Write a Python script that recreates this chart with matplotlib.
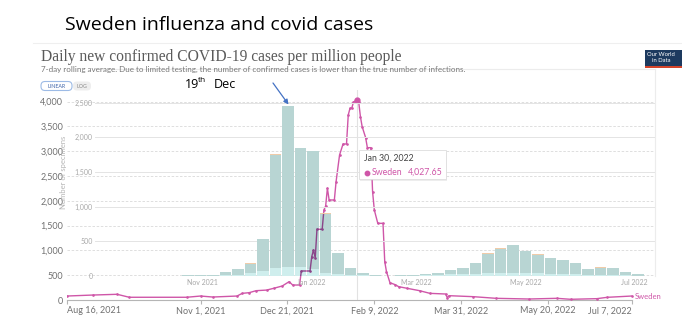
import numpy as np
import pandas as pd
import matplotlib
matplotlib.use("Agg")
from matplotlib import pyplot as plt
import matplotlib.dates as mdates
from matplotlib.patches import Rectangle, FancyBboxPatch

W, H = 682, 332

# Sweden, daily new confirmed COVID-19 cases per million (7-day average)
covid_dates = ["2021-08-16", "2021-08-31", "2021-09-14", "2021-09-21", "2021-10-24",
               "2021-11-01", "2021-11-08", "2021-11-22", "2021-11-25", "2021-11-29",
               "2021-12-03", "2021-12-09", "2021-12-13", "2021-12-18", "2021-12-22",
               "2021-12-24", "2021-12-28", "2021-12-29", "2022-01-03", "2022-01-04",
               "2022-01-05", "2022-01-06", "2022-01-07", "2022-01-10", "2022-01-11",
               "2022-01-12", "2022-01-13", "2022-01-14", "2022-01-17", "2022-01-18",
               "2022-01-20", "2022-01-22", "2022-01-24", "2022-01-25", "2022-01-26",
               "2022-01-27", "2022-01-28", "2022-01-29", "2022-01-30", "2022-01-31",
               "2022-02-01", "2022-02-02", "2022-02-04", "2022-02-05", "2022-02-07",
               "2022-02-08", "2022-02-09", "2022-02-11", "2022-02-14", "2022-02-15",
               "2022-02-16", "2022-02-18", "2022-02-21", "2022-02-23", "2022-02-28",
               "2022-03-07", "2022-03-13", "2022-03-22", "2022-03-23", "2022-03-24",
               "2022-04-07", "2022-04-20", "2022-05-09", "2022-05-25", "2022-06-02",
               "2022-06-17", "2022-06-23", "2022-07-07"]
covid_cases = [80, 100, 115, 55, 55,
               80, 60, 80, 134, 148,
               188, 200, 235, 282, 370,
               302, 302, 585, 585, 874,
               1008, 847, 1426, 1426, 1815,
               1896, 2253, 2017, 2017, 2387,
               2925, 3146, 3146, 3731, 3866,
               3866, 3990, 4010, 4027.65, 4000,
               3698, 3496, 3274, 3072, 3072,
               2185, 1815, 1546, 1546, 773,
               571, 349, 309, 269, 235,
               188, 134, 121, 47, 87,
               67, 34, 20, 34, 14,
               27, 54, 80]

covid_ticks = ["2021-08-16", "2021-11-01", "2021-12-21", "2022-02-09",
               "2022-03-31", "2022-05-20", "2022-07-07"]
covid_tick_labels = ["Aug 16, 2021", "Nov 1, 2021", "Dec 21, 2021", "Feb 9, 2022",
                     "Mar 31, 2022", "May 20, 2022", "Jul 7, 2022"]

# weekly influenza specimens, weeks centred on Sundays
flu_weeks = pd.date_range("2021-09-05", "2022-07-03", freq="7D")
flu_total = [3, 3, 4, 4, 5, 6, 7, 9, 12,
             15, 58, 96, 183, 534, 1756, 2457, 1851, 1808, 905,
             328, 120, 48, 19, 5, 10, 14, 29, 39, 87,
             111, 192, 328, 400, 447, 361, 313, 260, 231, 192,
             105, 126, 115, 62, 25]
flu_b = [1, 1, 2, 2, 2, 3, 3, 4, 5,
         6, 12, 20, 43, 76, 120, 134, 134, 105, 45,
         22, 12, 8, 5, 2, 4, 6, 10, 14, 22,
         28, 36, 42, 48, 50, 46, 40, 35, 30, 25,
         18, 16, 14, 8, 4]
flu_other = [0, 0, 0, 0, 0, 0, 0, 0, 0,
             0, 0, 1, 5, 3, 4, 6, 5, 6, 4,
             3, 2, 0, 0, 0, 0, 0, 1, 1, 2,
             2, 4, 5, 6, 5, 5, 4, 3, 4, 3,
             2, 4, 3, 2, 0]

flu_months = ["2021-11-01", "2022-01-01", "2022-03-01", "2022-05-01", "2022-07-01"]
flu_month_labels = ["Nov 2021", "Jan 2022", "Mar 2022", "May 2022", "Jul 2022"]

PINK = "#cf56a8"
GREY = "#707070"
LIGHT = "#a8a8a8"


def px_axes(fig, x0, y0, x1, y1):
    # axes placed by pixel box (top-left origin)
    return fig.add_axes([x0 / W, 1 - y1 / H, (x1 - x0) / W, (y1 - y0) / H])


fig = plt.figure(figsize=(W / 100, H / 100), dpi=100)
fig.patch.set_facecolor("white")

# ---- covid line chart ----
cd = pd.to_datetime(covid_dates)
start = pd.Timestamp("2021-08-16")
cov = px_axes(fig, 66.7, 90, 655, 300)
cov.set_xlim(start, start + pd.Timedelta(days=338.5))
cov.set_ylim(0, 4235)
cov.set_facecolor("none")
for s in ["top", "right", "left"]:
    cov.spines[s].set_visible(False)
cov.spines["bottom"].set_color("#b5b5b5")
cov.spines["bottom"].set_linewidth(0.8)
cov.spines["bottom"].set_bounds(mdates.date2num(start),
                                mdates.date2num(pd.Timestamp("2022-07-07")))
yt = np.arange(0, 4001, 500)
cov.set_yticks(yt)
cov.set_yticklabels([f"{v:,}" for v in yt], fontsize=6.5, color=GREY, family="Lato")
cov.tick_params(axis="y", length=0, pad=2.5)
cov.set_xticks(pd.to_datetime(covid_ticks))
xl = cov.set_xticklabels(covid_tick_labels, fontsize=6.5, color=GREY, family="Lato")
xl[0].set_ha("left")
xl[-1].set_ha("right")
cov.tick_params(axis="x", length=3, color="#b5b5b5", pad=1.5)
for v in yt[1:]:
    cov.axhline(v, color="#d9d9d9", lw=0.6, ls=(0, (3, 2)), zorder=0)
cov.axvline(pd.Timestamp("2022-01-30"), color="#e2e2e2", lw=0.8, zorder=0)
cov.plot(cd, covid_cases, color=PINK, lw=1.0, marker="o", ms=0.9, zorder=3)
cov.plot([pd.Timestamp("2022-01-30")], [4027.65], "o", color=PINK, ms=3.5, zorder=4)
cov.text(pd.Timestamp("2022-07-09"), 80, "Sweden", color=PINK, fontsize=5.5,
         family="Lato", va="center", ha="left")

# ---- influenza bar chart, laid over the line chart ----
flu = px_axes(fig, 95, 69, 655, 276)
flu.set_facecolor("none")
mid = pd.Timestamp("2021-12-19")
total = np.array(flu_total, float)
b = np.array(flu_b, float)
oth = np.array(flu_other, float)
a = total - b - oth
bw = 6.3
bars_b = flu.bar(flu_weeks, b, width=bw, color="#cfeeed", zorder=2)
bars_a = flu.bar(flu_weeks, a, bottom=b, width=bw, color="#b8d5d3", zorder=2)
flu.bar(flu_weeks, oth, bottom=b + a, width=bw, color="#f1cba8", zorder=2)
for v in range(500, 2501, 500):
    flu.axhline(v, color="#e4e4e4", lw=0.7, zorder=1)
for s in ["left", "bottom"]:
    flu.spines[s].set_visible(False)
for s in ["top", "right"]:
    flu.spines[s].set_color("#ececec")
    flu.spines[s].set_linewidth(0.8)
yt2 = np.arange(0, 2501, 500)
flu.set_yticks(yt2)
flu.set_yticklabels([f"{v:,}" for v in yt2], fontsize=5, color=LIGHT, family="Lato")
flu.tick_params(axis="y", length=0, pad=1.5)
flu.set_xticks(pd.to_datetime(flu_months))
flu.set_xticklabels(flu_month_labels, fontsize=5, color=LIGHT, family="Lato")
flu.tick_params(axis="x", length=0, pad=2)
flu.set_ylabel("Number of specimens", fontsize=5.5, color="#b5b5b5", family="Lato")
flu.yaxis.set_label_coords(-0.05, 0.5)

# the line shows through the bars darker where they overlap
for bar in list(bars_a) + list(bars_b):
    ln, = flu.plot(cd, covid_cases, color="#8a4489", lw=1.0, marker="o", ms=0.9,
                   transform=cov.transData, zorder=3)
    ln.set_clip_path(bar)
flu.set_xlim(mid - pd.Timedelta(days=108), mid + pd.Timedelta(days=205.5))
flu.set_ylim(0, 2987)

# ---- page furniture in pixel coordinates ----
ov = fig.add_axes([0, 0, 1, 1])
ov.set_xlim(0, W)
ov.set_ylim(H, 0)
ov.axis("off")
ov.set_zorder(10)

ov.text(65, 25, "Sweden influenza and covid cases", fontsize=14, family="Open Sans",
        color="black", va="center", ha="left")
ov.plot([33, 682], [43, 43], color="#efefef", lw=0.8)
ov.text(41, 57, "Daily new confirmed COVID-19 cases per million people", fontsize=11.2,
        family="Liberation Serif", color="#5a5a5a", va="center", ha="left")
ov.text(41, 69, "7-day rolling average. Due to limited testing, the number of confirmed "
        "cases is lower than the true number of infections.", fontsize=5.8,
        family="Lato", color="#777777", va="center", ha="left")

# LINEAR / LOG toggle
ov.add_patch(FancyBboxPatch((73, 81.5), 18, 9, boxstyle="round,pad=0,rounding_size=4",
                            fc="#eeeeee", ec="none"))
ov.add_patch(FancyBboxPatch((41, 81.5), 31, 9, boxstyle="round,pad=0,rounding_size=4",
                            fc="white", ec="#9dbbe6", lw=0.8))
ov.text(56.5, 86, "LINEAR", fontsize=3.8, family="Lato", color="#3d63a8",
        ha="center", va="center")
ov.text(82, 86, "LOG", fontsize=3.8, family="Lato", color="#888888",
        ha="center", va="center")

# OWID badge
ov.add_patch(Rectangle((645, 50), 40, 16, fc="#1d3a5f", ec="none"))
ov.add_patch(Rectangle((645, 66), 40, 2, fc="#d4442a", ec="none"))
ov.text(647, 54.5, "Our World", fontsize=4.2, color="white", family="Lato",
        va="center", ha="left")
ov.text(652, 61, "in Data", fontsize=4.2, color="white", family="Lato",
        va="center", ha="left")

# hover tooltip
ov.add_patch(Rectangle((360, 151.5), 87, 29, fc="#bbbbbb", ec="none", alpha=0.25))
ov.add_patch(Rectangle((359, 150), 87, 29, fc="white", ec="#dddddd", lw=0.6))
ov.text(364, 158.5, "Jan 30, 2022", fontsize=6.3, family="Lato", color="#444444",
        va="center", ha="left")
ov.plot([367], [172.5], "o", color=PINK, ms=3.2)
ov.text(372, 172.5, "Sweden", fontsize=6.3, family="Lato", color=PINK,
        va="center", ha="left")
ov.text(443, 172.5, "4,027.65", fontsize=6.3, family="Lato", color=PINK,
        va="center", ha="right")

# annotation for the flu peak week
ov.text(185, 84, "19", fontsize=9, family="Open Sans", va="center", ha="left")
ov.text(198, 80, "th", fontsize=6, family="Open Sans", va="center", ha="left")
ov.text(214, 84, "Dec", fontsize=9, family="Open Sans", va="center", ha="left")
ov.annotate("", xy=(288.5, 104.5), xytext=(273, 83),
            arrowprops=dict(arrowstyle="-|>", color="#4472c4", lw=0.9,
                            mutation_scale=7, shrinkA=0, shrinkB=0))

fig.savefig("out.png", dpi=100)
